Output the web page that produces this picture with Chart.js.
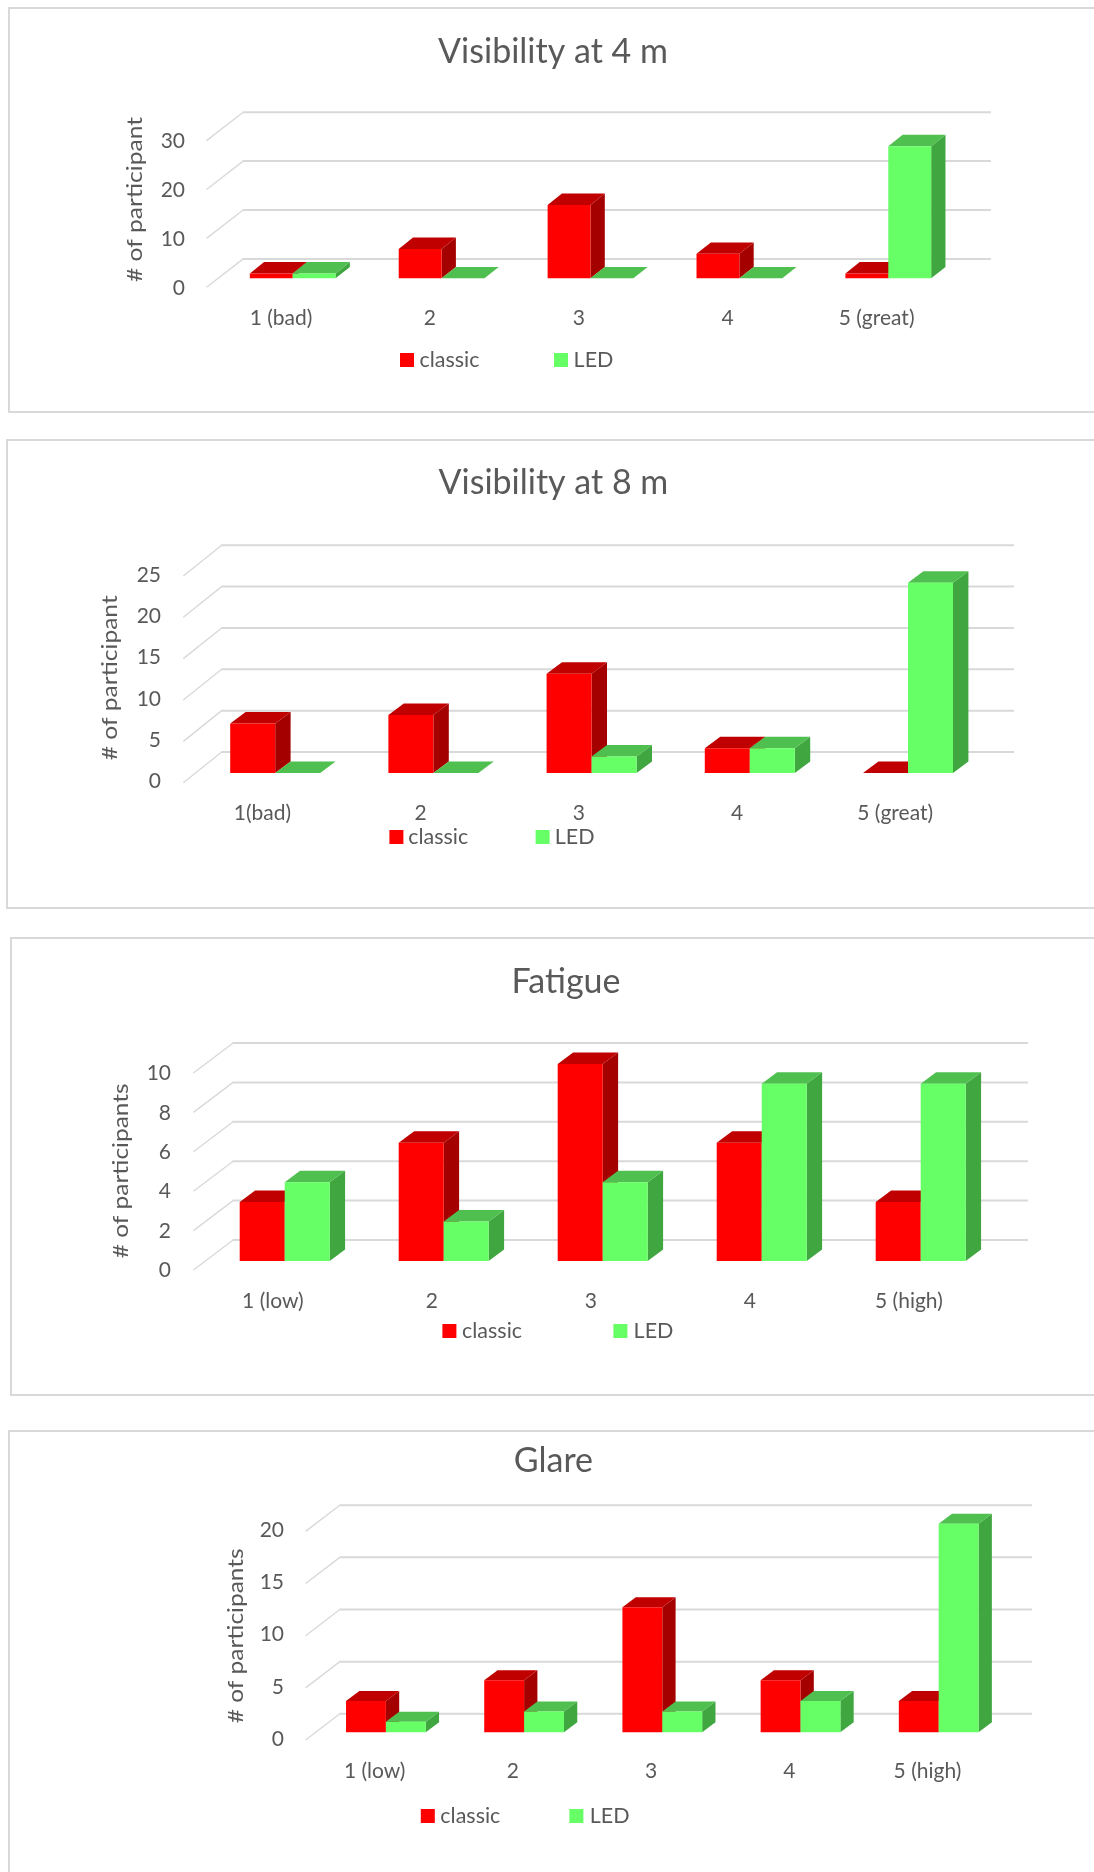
<!DOCTYPE html>
<html>
<head>
<meta charset="utf-8">
<script src="https://cdn.jsdelivr.net/npm/chart.js@4"></script>
<style>
html,body{margin:0;padding:0;background:#fff;width:1094px;height:1872px;overflow:hidden;position:relative}
.panel{position:absolute;box-sizing:border-box;border:2px solid #d9d9d9;background:#fff}
canvas{position:absolute;left:0}
</style>
</head>
<body>
<script>
const seriesNames = ['classic', 'LED'];

const titleA = 'Visibility at 4 m';
const categoriesA = ['1 (bad)', '2', '3', '4', '5 (great)'];
const classicA = [1, 6, 15, 5, 1];
const ledA = [1, 0, 0, 0, 27];
const axisTitleA = '# of participant';

const titleB = 'Visibility at 8 m';
const categoriesB = ['1(bad)', '2', '3', '4', '5 (great)'];
const classicB = [6, 7, 12, 3, 0];
const ledB = [0, 0, 2, 3, 23];
const axisTitleB = '# of participant';

const titleC = 'Fatigue';
const categoriesC = ['1 (low)', '2', '3', '4', '5 (high)'];
const classicC = [3, 6, 10, 6, 3];
const ledC = [4, 2, 4, 9, 9];
const axisTitleC = '# of participants';

const titleD = 'Glare';
const categoriesD = ['1 (low)', '2', '3', '4', '5 (high)'];
const classicD = [3, 5, 12, 5, 3];
const ledD = [1, 2, 2, 3, 20];
const axisTitleD = '# of participants';

const TEXT = '#595959', GRID = '#d9d9d9';
const FACE = ['#ff0000', '#66ff66'];
const TOP = ['#c00000', '#4fc04f'];
const SIDE = ['#a50000', '#40a640'];
const TITLE_FONT = '34px Lato, sans-serif';
const TICK_FONT = {family: 'Lato, sans-serif', size: 21};
const LEGEND_FONT = '21.5px Lato, sans-serif';
const AXIS_FONT = '21px Lato, sans-serif';

const panels = [
 {title: titleA, cats: categoriesA, a: classicA, b: ledA, axis: axisTitleA, axisLen: 165, max: 30, step: 10,
  box: [8, 7, 1200, 406], cTop: 0, cH: 420, tickAdj: 0.5,
  left: 218.25, right: 962.75, top: 131.6, bottom: 278.3, pct: 0.576,
  wallDx: 36.6, wallDy: 28.4, frontDy: 9, frontDx: 11.7, gridEnd: 991, barDx: 14.3, barDy: 11.4,
  tickRight: 185, xLabelY: 316.7, titleXY: [553, 52], axisXY: [135, 199.5],
  legend: [400, 419.4, 554, 573.6, 360]},
 {title: titleB, cats: categoriesB, a: classicB, b: ledB, axis: axisTitleB, axisLen: 165, max: 25, step: 5,
  box: [6, 439, 1200, 470], cTop: 430, cH: 490, tickAdj: -1,
  left: 196.1, right: 987.1, top: 566.25, bottom: 773, pct: 0.569,
  wallDx: 38.4, wallDy: 30.7, frontDy: 9.7, frontDx: 12.8, gridEnd: 1014, barDx: 15.4, barDy: 11.5,
  tickRight: 161, xLabelY: 812, titleXY: [553.4, 483.3], axisXY: [110.7, 677.8],
  legend: [389.4, 408.2, 535.6, 554.8, 837]},
 {title: titleC, cats: categoriesC, a: classicC, b: ledC, axis: axisTitleC, axisLen: 175, max: 10, step: 2,
  box: [10, 937, 1200, 459], cTop: 925, cH: 480, tickAdj: 0.5,
  left: 205.2, right: 1000.2, top: 1064, bottom: 1261, pct: 0.566,
  wallDx: 39.7, wallDy: 30, frontDy: 9, frontDx: 11.8, gridEnd: 1028, barDx: 15.4, barDy: 11.5,
  tickRight: 171, xLabelY: 1300, titleXY: [566, 981.7], axisXY: [121, 1170.8],
  legend: [442.4, 462, 613.4, 633.6, 1331]},
 {title: titleD, cats: categoriesD, a: classicD, b: ledD, axis: axisTitleD, axisLen: 175, max: 20, step: 5,
  box: [8.4, 1430, 1200, 600], cTop: 1420, cH: 452, tickAdj: -1,
  left: 316.8, right: 1007.8, top: 1523.7, bottom: 1732.3, pct: 0.577,
  wallDx: 34.2, wallDy: 26.2, frontDy: 7.7, frontDx: 11.2, gridEnd: 1032, barDx: 13.3, barDy: 10,
  tickRight: 284, xLabelY: 1770, titleXY: [553.4, 1460.7], axisXY: [236.3, 1635.8],
  legend: [420.8, 440.3, 569.4, 589.7, 1816]}
];

function poly(ctx, pts, fill) {
  ctx.beginPath();
  pts.forEach((p, i) => i ? ctx.lineTo(p[0], p[1]) : ctx.moveTo(p[0], p[1]));
  ctx.closePath();
  ctx.fillStyle = fill;
  ctx.fill();
}

const faux3d = {
  id: 'faux3d',
  beforeDatasetsDraw(chart, args, o) {
    const ctx = chart.ctx, p = o.panel, y = chart.scales.y, x = chart.scales.x, t = p.cTop;
    ctx.save();
    // walls & gridlines from the value axis
    const frontX = x.left - p.frontDx;
    y.ticks.forEach(tk => {
      const py = y.getPixelForValue(tk.value) + p.frontDy;
      ctx.strokeStyle = GRID;
      ctx.lineWidth = 1.4;
      ctx.beginPath();
      ctx.moveTo(frontX, py);
      ctx.lineTo(frontX + p.wallDx, py - p.wallDy);
      ctx.stroke();
      ctx.lineWidth = 2;
      ctx.beginPath();
      ctx.moveTo(frontX + p.wallDx - 0.5, py - p.wallDy);
      ctx.lineTo(p.gridEnd, py - p.wallDy);
      ctx.stroke();
    });
    // title, axis title, legend
    ctx.fillStyle = TEXT;
    ctx.textBaseline = 'middle';
    ctx.textAlign = 'center';
    ctx.font = TITLE_FONT;
    ctx.fillText(p.title, p.titleXY[0], p.titleXY[1] - t);
    ctx.save();
    ctx.translate(p.axisXY[0], p.axisXY[1] - t);
    ctx.rotate(-Math.PI / 2);
    ctx.font = AXIS_FONT;
    ctx.scale(p.axisLen / ctx.measureText(p.axis).width, 1);
    ctx.fillText(p.axis, 0, 0);
    ctx.restore();
    const L = p.legend, ly = L[4] - t;
    ctx.textAlign = 'left';
    ctx.font = LEGEND_FONT;
    [[L[0], L[1]], [L[2], L[3]]].forEach((e, i) => {
      ctx.fillStyle = FACE[i];
      ctx.fillRect(e[0], ly - 7, 14, 14);
      ctx.fillStyle = TEXT;
      ctx.fillText(seriesNames[i], e[1], ly);
    });
    ctx.restore();
    // series painted left to right so that LED hides the depth faces of classic
    chart.data.datasets.forEach((ds, i) => {
      const meta = chart.getDatasetMeta(i);
      meta.data.forEach(b => {
        const l = b.x - b.width / 2, r = b.x + b.width / 2, dx = p.barDx, dy = p.barDy;
        poly(ctx, [[r, b.y], [r + dx, b.y - dy], [r + dx, b.base - dy], [r, b.base]], SIDE[i]);
        poly(ctx, [[l, b.y], [l + dx, b.y - dy], [r + dx, b.y - dy], [r, b.y]], TOP[i]);
      });
      meta.data.forEach(b => b.draw(ctx));
    });
    return false;
  }
};

panels.forEach(p => {
  const d = document.createElement('div');
  d.className = 'panel';
  d.style.cssText = `left:${p.box[0]}px;top:${p.box[1]}px;width:${p.box[2]}px;height:${p.box[3]}px`;
  document.body.appendChild(d);
  const c = document.createElement('canvas');
  c.width = 1094; c.height = p.cH;
  c.style.top = p.cTop + 'px';
  document.body.appendChild(c);
  const AXW = 120, AXH = 70;
  new Chart(c, {
    type: 'bar',
    data: {
      labels: p.cats,
      datasets: [
        {label: seriesNames[0], data: p.a, backgroundColor: FACE[0], barPercentage: 1, categoryPercentage: p.pct},
        {label: seriesNames[1], data: p.b, backgroundColor: FACE[1], barPercentage: 1, categoryPercentage: p.pct}
      ]
    },
    plugins: [faux3d],
    options: {
      responsive: false,
      animation: false,
      events: [],
      layout: {padding: {left: p.left - AXW, right: 1094 - p.right, top: p.top - p.cTop, bottom: p.cTop + p.cH - p.bottom - AXH}},
      plugins: {legend: {display: false}, title: {display: false}, tooltip: {enabled: false}, faux3d: {panel: p}},
      scales: {
        x: {
          afterFit(s) { s.height = AXH; },
          grid: {display: false, drawTicks: false},
          border: {display: false},
          ticks: {color: TEXT, font: TICK_FONT, maxRotation: 0, autoSkip: false, labelOffset: -p.frontDx, padding: p.xLabelY - p.bottom - 11}
        },
        y: {
          min: 0, max: p.max,
          afterFit(s) { s.width = AXW; },
          grid: {display: false, drawTicks: false},
          border: {display: false},
          ticks: {color: TEXT, font: TICK_FONT, stepSize: p.step, labelOffset: p.frontDy + p.tickAdj, padding: p.left - p.tickRight}
        }
      }
    }
  });
});
</script>
</body>
</html>
